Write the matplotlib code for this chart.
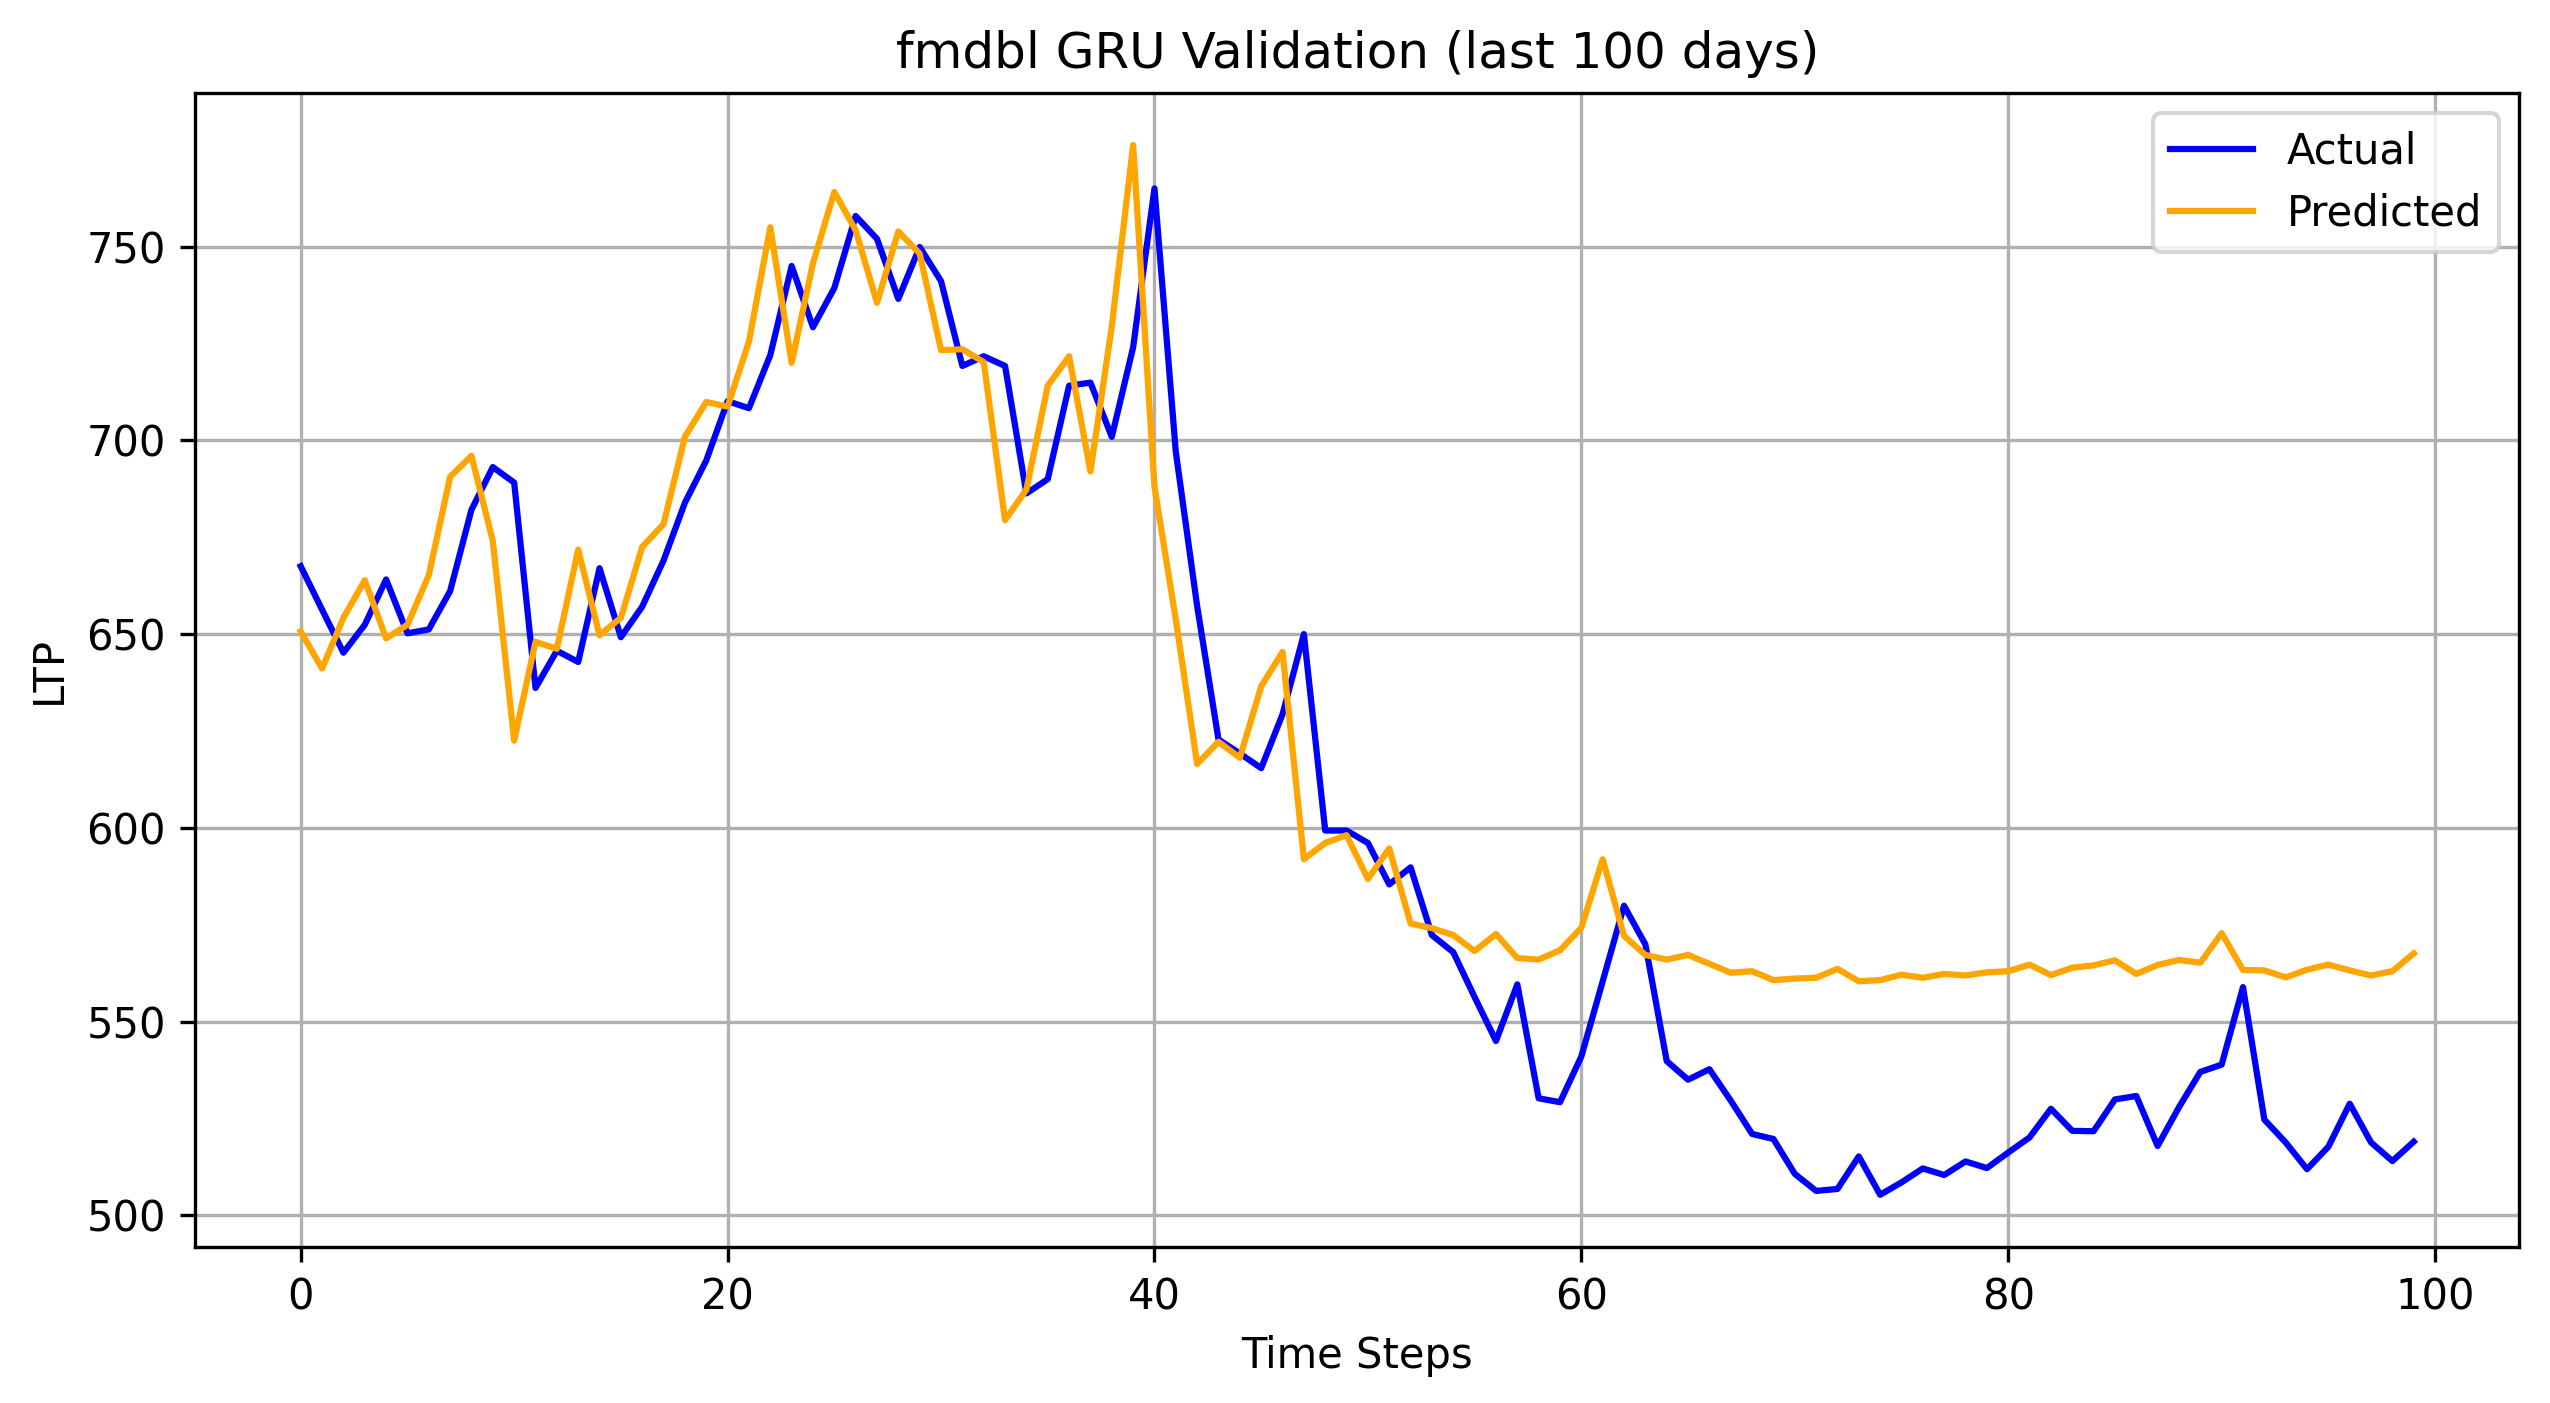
import matplotlib
matplotlib.use("Agg")
import matplotlib.pyplot as plt
import numpy as np

time_steps = list(range(100))

actual = [
    667.5, 656.3, 645.2, 652.4, 664.1, 650.2, 651.2, 661.1, 682.1, 693.1,
    689.1, 636.1, 645.7, 642.8, 667.0, 649.2, 657.1, 669.0, 683.9, 694.8,
    710.1, 708.3, 722.0, 745.0, 729.2, 739.3, 757.9, 752.0, 736.5, 749.9,
    741.1, 719.2, 721.7, 719.2, 686.3, 690.0, 714.1, 714.9, 700.9, 724.0,
    765.0, 697.0, 657.2, 622.8, 619.2, 615.4, 629.3, 650.0, 599.3, 599.3,
    596.1, 585.4, 589.8, 572.3, 567.9, 556.3, 545.0, 559.6, 530.2, 529.2,
    541.0, 560.4, 579.9, 569.9, 539.8, 535.0, 537.7, 529.6, 521.0, 519.7,
    510.7, 506.3, 506.8, 515.2, 505.3, 508.5, 512.1, 510.4, 513.9, 512.2,
    516.2, 520.1, 527.5, 521.8, 521.7, 529.9, 530.8, 517.9, 527.9, 537.0,
    538.9, 558.9, 524.7, 518.8, 511.9, 517.7, 528.8, 518.8, 514.0, 519.0,
]

predicted = [
    650.7, 641.1, 654.2, 663.9, 648.9, 652.4, 665.2, 690.6, 696.0, 674.0,
    622.5, 648.0, 646.2, 671.8, 649.7, 654.2, 672.5, 678.4, 700.9, 709.9,
    708.7, 725.5, 755.0, 720.0, 745.7, 764.1, 754.2, 735.5, 753.9, 748.2,
    723.3, 723.5, 720.2, 679.4, 687.3, 714.1, 721.7, 692.0, 729.4, 776.2,
    688.0, 653.7, 616.5, 622.2, 618.1, 636.5, 645.4, 591.9, 596.1, 598.1,
    586.8, 594.7, 575.3, 574.1, 572.3, 568.2, 572.6, 566.4, 566.0, 568.4,
    574.2, 591.9, 572.1, 567.2, 566.0, 567.2, 564.9, 562.6, 563.0, 560.7,
    561.1, 561.3, 563.6, 560.4, 560.7, 562.1, 561.3, 562.3, 561.9, 562.7,
    563.0, 564.7, 562.0, 563.9, 564.5, 565.8, 562.3, 564.6, 565.9, 565.2,
    572.8, 563.3, 563.2, 561.4, 563.4, 564.7, 563.2, 561.9, 563.0, 567.6,
]

fig = plt.figure(figsize=(8.5, 1403 / 300), dpi=300)
ax = fig.add_axes([0.0765, 0.111, 0.9115, 0.823])
ax.plot(time_steps, actual, color="blue", label="Actual")
ax.plot(time_steps, predicted, color="orange", label="Predicted")
ax.set_title("fmdbl GRU Validation (last 100 days)")
ax.set_xlabel("Time Steps")
ax.set_ylabel("LTP")
ax.legend(loc="upper right")
ax.grid(True)
fig.savefig("out.png", dpi=300)
